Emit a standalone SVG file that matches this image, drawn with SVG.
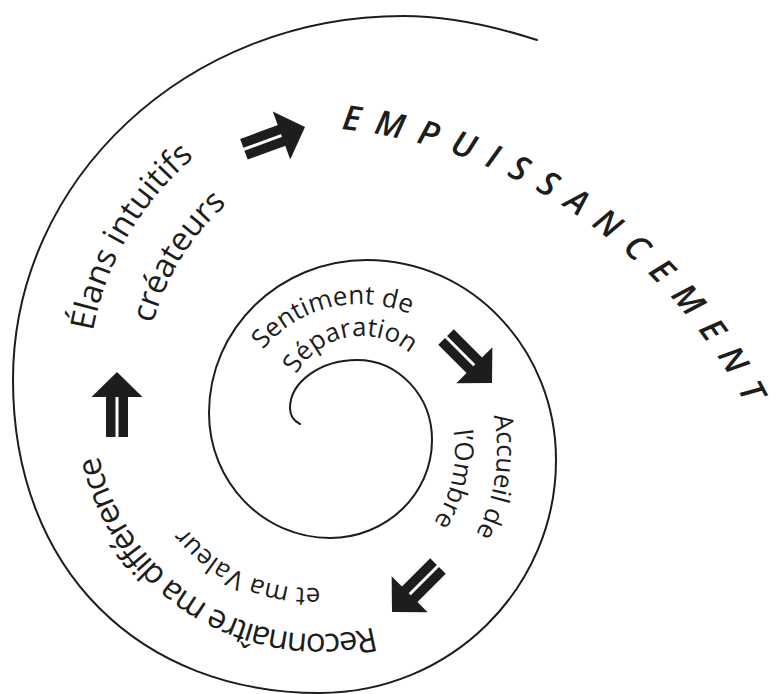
<svg xmlns="http://www.w3.org/2000/svg" xmlns:xlink="http://www.w3.org/1999/xlink" width="775" height="694" viewBox="0 0 775 694">
<style>
.bg{fill:#ffffff}
.spiral{fill:none;stroke:#1d1d1b;stroke-width:2;stroke-linecap:round}
.lbl{font-family:"Open Sans","DejaVu Sans",sans-serif;fill:#1d1d1b;font-weight:500}
.outer{font-size:33px}
.inner{font-size:26px}
.title{font-size:34px;font-weight:600;font-style:italic;letter-spacing:14.3px}
.arrow{fill:#1d1d1b}
</style>
<defs>
<path id="pEmp" d="M321.3,127.2 A520,520 0 0 1 779.6,485.3"/>
<path id="pElans" d="M89.13,359.11 A297,297 0 0 1 333.43,92.51"/>
<path id="pCrea" d="M145.91,364.08 A240,240 0 0 1 343.32,148.65"/>
<path id="pSent" d="M241.6,386.9 A126,126 0 0 1 456.5,349.0"/>
<path id="pSep" d="M288.1,398.0 A75,75 0 0 1 426.95,373.5"/>
<path id="pAcc" d="M473.3,361.5 A177,177 0 0 1 433.8,585.6"/>
<path id="pOmb" d="M436.9,382.5 A135,135 0 0 1 387.5,566.9"/>
<path id="pVal" d="M364.0,578.5 A158,158 0 0 1 154.4,457.4"/>
<path id="pRec" d="M431.5,603.9 A225,225 0 0 1 94.9,428.6"/>
<g id="dblArrow" class="arrow">
<polygon points="0,0 -25,-25.5 -25,25.5"/>
<rect x="-65" y="-11" width="41" height="9.5"/>
<rect x="-65" y="1.5" width="41" height="9.5"/>
</g>
</defs>
<rect class="bg" x="0" y="0" width="775" height="694"/>
<g id="spiral">
<path class="spiral" d="M537,40 C500,28 450,16 403,16 C187.6,16 13,179 13,380 C13,570 140,693 320,693 C450.3,693 556,588.7 556,460 C556,349.5 471.4,260 367,260 C279.7,260 209,328.5 209,413 C209,482 263.2,538 330,538 C386.3,538 432,494.1 432,440 C432,395.8 398.4,360 357,360 C320,360 290,382.4 290,408 C290,416 294,421 300,424"/>
</g>
<g id="connectors">
<use xlink:href="#dblArrow" transform="translate(305,127) rotate(-20)"/>
<use xlink:href="#dblArrow" transform="translate(492,383) rotate(45)"/>
<use xlink:href="#dblArrow" transform="translate(392,612) rotate(135)"/>
<use xlink:href="#dblArrow" transform="translate(117,372) rotate(-90)"/>
</g>
<g id="empuissancement">
<text class="lbl title"><textPath xlink:href="#pEmp" startOffset="20">EMPUISSANCEMENT</textPath></text>
</g>
<g id="elans">
<text class="lbl outer" font-size="34"><textPath xlink:href="#pElans" startOffset="28">Élans intuitifs</textPath></text>
<text class="lbl outer" letter-spacing="-0.4"><textPath xlink:href="#pCrea" startOffset="41">créateurs</textPath></text>
</g>
<g id="sentiment">
<text class="lbl inner"><textPath xlink:href="#pSent" startOffset="43">Sentiment de</textPath></text>
<text class="lbl inner"><textPath xlink:href="#pSep" startOffset="25">Séparation</textPath></text>
</g>
<g id="accueil">
<text class="lbl inner"><textPath xlink:href="#pAcc" startOffset="58">Accueil de</textPath></text>
<text class="lbl inner"><textPath xlink:href="#pOmb" startOffset="51">l’Ombre</textPath></text>
</g>
<g id="reconnaitre">
<text class="lbl inner" font-size="29"><textPath xlink:href="#pVal" startOffset="45">et ma Valeur</textPath></text>
<text class="lbl outer" font-size="27" letter-spacing="-1.9"><textPath xlink:href="#pRec" startOffset="62">Reconnaître ma différence</textPath></text>
</g>
</svg>
